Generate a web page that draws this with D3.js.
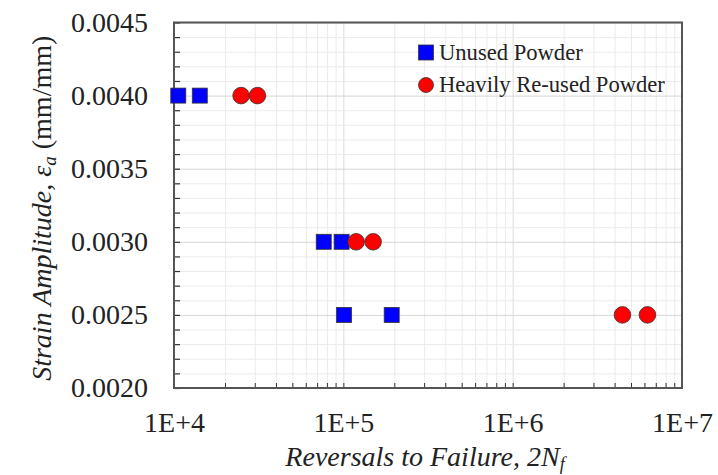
<!DOCTYPE html>
<html>
<head>
<meta charset="utf-8">
<script src="https://cdn.jsdelivr.net/npm/d3@7"></script>
<style>
  html, body { margin: 0; padding: 0; background: #fff; }
  svg { display: block; }
  text { font-family: "Liberation Serif", "Times New Roman", serif; fill: #222; }
</style>
</head>
<body>
<svg id="chart" width="718" height="475"></svg>
<script>
// Strain-life fatigue data: strain amplitude vs reversals to failure
const unusedReversals = [10600, 14200, 76600, 97700, 101000, 193000];
const unusedStrain    = [0.0040, 0.0040, 0.0030, 0.0030, 0.0025, 0.0025];
const reusedReversals = [24900, 31100, 119000, 150000, 4450000, 6250000];
const reusedStrain    = [0.0040, 0.0040, 0.0030, 0.0030, 0.0025, 0.0025];

const seriesNames = ["Unused Powder", "Heavily Re-used Powder"];
const xTickValues = [1e4, 1e5, 1e6, 1e7];
const xTickLabels = ["1E+4", "1E+5", "1E+6", "1E+7"];
const yTickValues = [0.0020, 0.0025, 0.0030, 0.0035, 0.0040, 0.0045];

const svg = d3.select("#chart");
const margin = { left: 174, right: 36, top: 22.5, bottom: 87 };
const W = 718, H = 475;
const plotW = W - margin.left - margin.right;
const plotH = H - margin.top - margin.bottom;
const serif = "'Liberation Serif', 'Times New Roman', serif";

const x = d3.scaleLog().domain([1e4, 1e7]).range([0, plotW]);
const y = d3.scaleLinear().domain([0.0020, 0.0045]).range([plotH, 0]);

const g = svg.append("g").attr("transform", `translate(${margin.left},${margin.top})`);

// minor positions: 2..9 in each decade, and every 0.0001 strain
const xMinor = [];
[1e4, 1e5, 1e6].forEach(d => { for (let k = 2; k <= 9; k++) xMinor.push(d * k); });
const yMinor = d3.range(0, 26).map(i => +(0.0020 + i * 0.0001).toFixed(4));
const yMinorOnly = yMinor.filter(v => !yTickValues.some(t => Math.abs(t - v) < 1e-9));

// grid
const gridX = g.append("g").attr("transform", `translate(0,${plotH})`)
  .call(d3.axisBottom(x).tickValues(xMinor).tickSize(-plotH).tickFormat(""));
gridX.selectAll("line").attr("stroke", "#ebebeb");
gridX.select(".domain").remove();

const gridXMajor = g.append("g").attr("transform", `translate(0,${plotH})`)
  .call(d3.axisBottom(x).tickValues(xTickValues).tickSize(-plotH).tickFormat(""));
gridXMajor.selectAll("line").attr("stroke", "#dcdcdc");
gridXMajor.select(".domain").remove();

const gridY = g.append("g")
  .call(d3.axisLeft(y).tickValues(yMinorOnly).tickSize(-plotW).tickFormat(""));
gridY.selectAll("line").attr("stroke", "#ebebeb");
gridY.select(".domain").remove();

const gridYMajor = g.append("g")
  .call(d3.axisLeft(y).tickValues(yTickValues).tickSize(-plotW).tickFormat(""));
gridYMajor.selectAll("line").attr("stroke", "#d6d6d6");
gridYMajor.select(".domain").remove();

// inward tick marks
const xTicks = g.append("g").attr("transform", `translate(0,${plotH})`)
  .call(d3.axisBottom(x).tickValues(xMinor.concat(xTickValues)).tickSize(-5).tickFormat(""));
xTicks.selectAll("line").attr("stroke", "#333").attr("stroke-width", 1);
xTicks.select(".domain").remove();

const yTicks = g.append("g")
  .call(d3.axisLeft(y).tickValues(yMinor).tickSize(-6).tickFormat(""));
yTicks.selectAll("line").attr("stroke", "#333").attr("stroke-width", 1.2);
yTicks.select(".domain").remove();

// plot frame
g.append("rect")
  .attr("x", 0).attr("y", 0).attr("width", plotW).attr("height", plotH)
  .attr("fill", "none").attr("stroke", "#555").attr("stroke-width", 2);

// tick labels
const xLab = g.append("g").attr("transform", `translate(0,${plotH})`)
  .call(d3.axisBottom(x).tickValues(xTickValues)
    .tickFormat((d, i) => xTickLabels[i]).tickSize(0).tickPadding(24));
xLab.select(".domain").remove();
xLab.selectAll("text").style("font-size", "28px").attr("fill", "#222").style("font-family", serif);

const yLab = g.append("g")
  .call(d3.axisLeft(y).tickValues(yTickValues).tickFormat(d3.format(".4f")).tickSize(0).tickPadding(26));
yLab.select(".domain").remove();
yLab.selectAll("text").style("font-size", "28px").attr("fill", "#222").style("font-family", serif);

// data markers
const unused = unusedReversals.map((n, i) => ({ n, s: unusedStrain[i] }));
const reused = reusedReversals.map((n, i) => ({ n, s: reusedStrain[i] }));
const sq = 15, r = 8.3;

g.append("g").selectAll("rect").data(unused).join("rect")
  .attr("x", d => x(d.n) - sq / 2).attr("y", d => y(d.s) - sq / 2)
  .attr("width", sq).attr("height", sq)
  .attr("fill", "#0000ff").attr("stroke", "#333").attr("stroke-width", 0.8);

g.append("g").selectAll("circle").data(reused).join("circle")
  .attr("cx", d => x(d.n)).attr("cy", d => y(d.s)).attr("r", r)
  .attr("fill", "#ff0000").attr("stroke", "#333").attr("stroke-width", 0.8);

// legend
const leg = svg.append("g").attr("transform", "translate(426,0)");
leg.append("rect").attr("x", -7.5).attr("y", 45).attr("width", sq).attr("height", sq)
  .attr("fill", "#0000ff").attr("stroke", "#333").attr("stroke-width", 0.8);
leg.append("text").attr("x", 13).attr("y", 60).style("font-size", "22.6px").text(seriesNames[0]);
leg.append("circle").attr("cx", 0).attr("cy", 85).attr("r", 7.5)
  .attr("fill", "#ff0000").attr("stroke", "#333").attr("stroke-width", 0.8);
leg.append("text").attr("x", 13).attr("y", 92).style("font-size", "22.6px").text(seriesNames[1]);

// axis titles
const xt = svg.append("text")
  .attr("x", margin.left + plotW / 2 - 3).attr("y", 466)
  .attr("text-anchor", "middle").style("font-size", "28px").style("font-style", "italic");
xt.append("tspan").text("Reversals to Failure, 2N");
xt.append("tspan").attr("dy", "0.2em").style("font-size", "18px").text("f");

const yt = svg.append("text")
  .attr("transform", `translate(51,${margin.top + plotH / 2 + 3}) rotate(-90)`)
  .attr("text-anchor", "middle").style("font-size", "28px");
yt.append("tspan").style("font-style", "italic").text("Strain Amplitude, ε");
yt.append("tspan").style("font-style", "italic").style("font-size", "19px").attr("dy", "0.25em").text("a");
yt.append("tspan").attr("dy", "-0.17em").text(" (mm/mm)");
</script>
</body>
</html>
